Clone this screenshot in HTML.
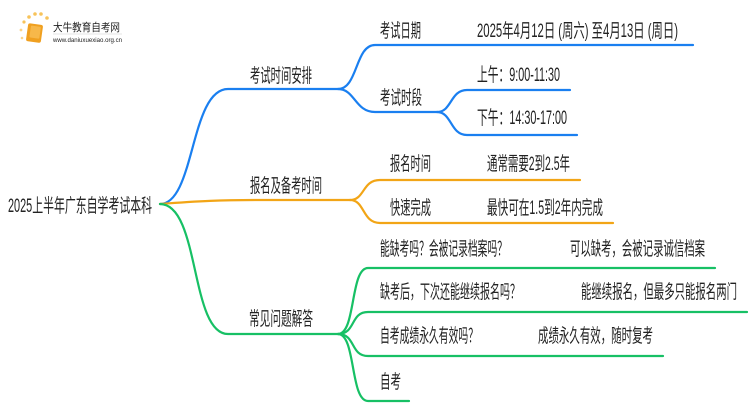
<!DOCTYPE html>
<html><head><meta charset="utf-8"><style>
html,body{margin:0;padding:0;background:#fff;}
svg{display:block;}
text{font-family:"Liberation Sans","Noto Sans CJK SC",sans-serif;fill:#222;}
</style></head><body>
<svg width="750" height="410" viewBox="0 0 750 410" xmlns="http://www.w3.org/2000/svg">
<g>
<circle cx="24" cy="22" r="1.6" fill="#f7c35a"/><circle cx="29" cy="17" r="1.8" fill="#f7c35a"/><circle cx="35" cy="14" r="1.8" fill="#f7c35a"/><circle cx="41" cy="14" r="1.8" fill="#f7c35a"/><circle cx="47" cy="18" r="1.8" fill="#f7c35a"/><circle cx="21" cy="30" r="1.4" fill="#fad48a"/><circle cx="22" cy="38" r="1.3" fill="#fad48a"/>
<rect x="27" y="24" width="15" height="18" rx="2" fill="#f0a020" transform="rotate(8 34 33)"/>
<rect x="30" y="26" width="10" height="12" rx="1" fill="#f7b84a" transform="rotate(8 34 33)"/>
<text x="53" y="31" font-size="11" textLength="67" lengthAdjust="spacingAndGlyphs" fill="#333">大牛教育自考网</text>
<line x1="53" y1="34" x2="122" y2="34" stroke="#ccc" stroke-width="0.6"/>
<text x="53" y="42" font-size="6" textLength="69" lengthAdjust="spacingAndGlyphs" fill="#555">www.daniuxuexiao.org.cn</text>
</g>
<g fill="none" stroke-width="2.2" stroke-linecap="round">
<path d="M160 204 C195 204 190 89 228 89 L338 89" stroke="#1a7ff0"/>
<path d="M338 89 C358 89 355 45 375 45 L693 45" stroke="#1a7ff0"/>
<path d="M338 89 C355 89 355 112 375 112 L437 112" stroke="#1a7ff0"/>
<path d="M437 112 C452 112 450 90 467 90 L570 90" stroke="#1a7ff0"/>
<path d="M437 112 C452 112 450 135 467 135 L577 135" stroke="#1a7ff0"/>
<path d="M160 204 C200 201 220 200 260 200 L350 200" stroke="#f2a516"/>
<path d="M350 200 C365 200 362 180 380 180 L580 180" stroke="#f2a516"/>
<path d="M350 200 C365 200 362 223 380 223 L613 223" stroke="#f2a516"/>
<path d="M160 204 C200 204 190 334 228 334 L338 334" stroke="#17c065"/>
<path d="M338 334 C356 334 350 268 368 268 L715 268" stroke="#17c065"/>
<path d="M338 334 C356 334 350 312 368 312 L747 312" stroke="#17c065"/>
<path d="M338 334 C356 334 350 356 368 356 L663 356" stroke="#17c065"/>
<path d="M338 334 C356 334 350 401 368 401 L409 401" stroke="#17c065"/>
</g>
<g font-size="19">
<text x="8" y="212" textLength="144" lengthAdjust="spacingAndGlyphs">2025上半年广东自学考试本科</text>
<text x="250" y="82" textLength="62" lengthAdjust="spacingAndGlyphs">考试时间安排</text>
<text x="250" y="192" textLength="72" lengthAdjust="spacingAndGlyphs">报名及备考时间</text>
<text x="249" y="325" textLength="64" lengthAdjust="spacingAndGlyphs">常见问题解答</text>
<text x="380" y="37" textLength="41" lengthAdjust="spacingAndGlyphs">考试日期</text>
<text x="477" y="37" textLength="201" lengthAdjust="spacingAndGlyphs">2025年4月12日 (周六) 至4月13日 (周日)</text>
<text x="380" y="104" textLength="42" lengthAdjust="spacingAndGlyphs">考试时段</text>
<text x="477" y="81" textLength="83" lengthAdjust="spacingAndGlyphs">上午：9:00-11:30</text>
<text x="477" y="124" textLength="90" lengthAdjust="spacingAndGlyphs">下午：14:30-17:00</text>
<text x="390" y="170" textLength="41" lengthAdjust="spacingAndGlyphs">报名时间</text>
<text x="487" y="170" textLength="83" lengthAdjust="spacingAndGlyphs">通常需要2到2.5年</text>
<text x="390" y="214" textLength="41" lengthAdjust="spacingAndGlyphs">快速完成</text>
<text x="487" y="214" textLength="116" lengthAdjust="spacingAndGlyphs">最快可在1.5到2年内完成</text>
<text x="380" y="255" textLength="127" lengthAdjust="spacingAndGlyphs">能缺考吗？会被记录档案吗？</text>
<text x="570" y="255" textLength="135" lengthAdjust="spacingAndGlyphs">可以缺考，会被记录诚信档案</text>
<text x="380" y="298" textLength="140" lengthAdjust="spacingAndGlyphs">缺考后，下次还能继续报名吗？</text>
<text x="581" y="298" textLength="156" lengthAdjust="spacingAndGlyphs">能继续报名，但最多只能报名两门</text>
<text x="380" y="342" textLength="98" lengthAdjust="spacingAndGlyphs">自考成绩永久有效吗？</text>
<text x="538" y="342" textLength="115" lengthAdjust="spacingAndGlyphs">成绩永久有效，随时复考</text>
<text x="380" y="388" textLength="21" lengthAdjust="spacingAndGlyphs">自考</text>
</g>
</svg>
</body></html>
